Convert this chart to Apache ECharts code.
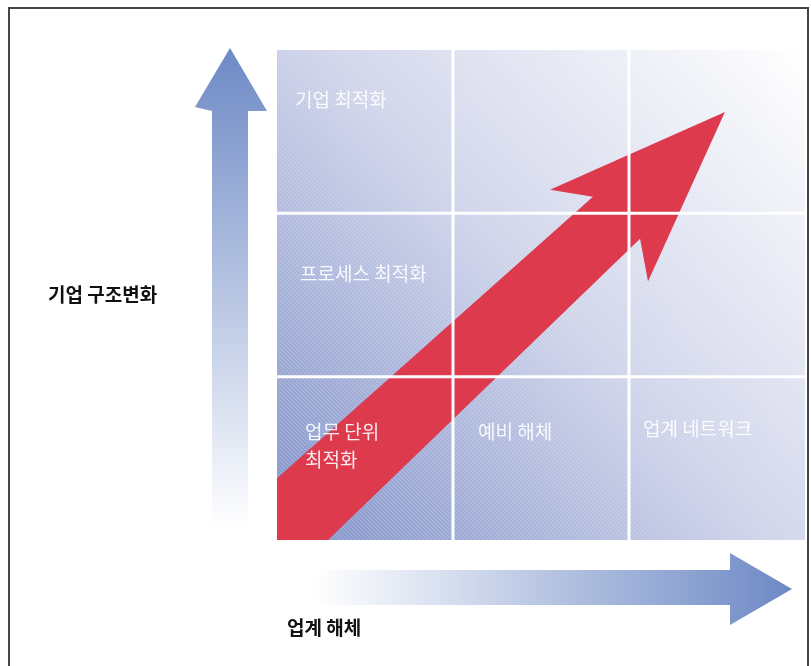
<!DOCTYPE html>
<html>
<head>
<meta charset="utf-8">
<script src="https://cdn.jsdelivr.net/npm/echarts@6/dist/echarts.min.js"></script>
<style>
  html, body { margin: 0; padding: 0; background: #fff; }
  #chart { width: 811px; height: 666px; }
</style>
</head>
<body>
<div id="chart"></div>
<script>
// 셀 데이터 (열, 행, 이름)
const cellCol = [0, 0, 0, 1, 2, 1, 1, 2, 2]
const cellRow = [2, 1, 0, 0, 0, 1, 2, 1, 2]
const cellText = ['기업 최적화', '프로세스 최적화', '업무 단위\n최적화', '예비 해체', '업계 네트워크', '', '', '', '']
// 라벨 위치 보정 (px)
const labelDx = [18, 23, 28, 25, 14, 0, 0, 0, 0]
const labelDy = [50, 60, 69, 55, 52, 0, 0, 0, 0]

// 빨간 화살표 꼭짓점 (축 단위)
const arrowX = [2.545, 2.108, 2.063, -0.063, -0.21, 1.795, 1.551]
const arrowY = [2.621, 1.582, 1.845, -0.367, 0.177, 2.102, 2.145]

// 구분선 위치
const dividers = [1, 2]

const yTitle = '기업 구조변화'
const xTitle = '업계 해체'

const FONT = '"Noto Sans CJK KR", "Noto Sans", sans-serif'
const blue = '#6d89c5'

// 사선 무늬
const hatch = document.createElement('canvas')
hatch.width = 4
hatch.height = 4
const hctx = hatch.getContext('2d')
hctx.strokeStyle = 'rgba(255,255,255,0.2)'
hctx.lineWidth = 1
;[-4, 0, 4].forEach(k => {
    hctx.beginPath()
    hctx.moveTo(-1, -1 + k)
    hctx.lineTo(5, 5 + k)
    hctx.stroke()
})

const chart = echarts.init(document.getElementById('chart'))

const cellData = cellCol.map((c, i) => [c, cellRow[i], i])

chart.setOption({
    animation: false,
    grid: { left: 277, right: 6, top: 50, bottom: 126 },
    xAxis: { type: 'value', min: 0, max: 3, show: false },
    yAxis: { type: 'value', min: 0, max: 3, show: false },
    graphic: [
        {
            type: 'rect',
            shape: { x: 9, y: 8, width: 799, height: 700 },
            style: { fill: 'none', stroke: '#454545', lineWidth: 2 }
        },
        {
            type: 'polygon',
            shape: { points: [[230, 48], [267, 111], [248, 111], [248, 530], [212, 530], [212, 111], [195, 107]] },
            style: {
                fill: new echarts.graphic.LinearGradient(0, 0, 0, 1, [
                    { offset: 0, color: blue },
                    { offset: 1, color: '#ffffff' }
                ])
            }
        },
        {
            type: 'polygon',
            shape: { points: [[314, 570], [730, 570], [730, 553], [792, 589], [730, 625], [730, 605], [314, 605]] },
            style: {
                fill: new echarts.graphic.LinearGradient(0, 0, 1, 0, [
                    { offset: 0, color: '#ffffff' },
                    { offset: 1, color: blue }
                ])
            }
        },
        {
            type: 'text', left: 48, top: 285,
            style: { text: yTitle, fill: '#111', font: 'bold 19px ' + FONT }
        },
        {
            type: 'text', left: 287, top: 618,
            style: { text: xTitle, fill: '#111', font: 'bold 19px ' + FONT }
        }
    ],
    series: [
        {
            // 셀 배경
            type: 'custom',
            data: cellData,
            z: 1,
            renderItem: (params, api) => {
                const p0 = api.coord([api.value(0), api.value(1) + 1])
                const p1 = api.coord([api.value(0) + 1, api.value(1)])
                const bl = api.coord([0, 0])
                const tr = api.coord([3, 3])
                const shape = { x: p0[0], y: p0[1], width: p1[0] - p0[0], height: p1[1] - p0[1] }
                return {
                    type: 'group',
                    children: [
                        {
                            type: 'rect', shape,
                            style: {
                                fill: new echarts.graphic.LinearGradient(bl[0], bl[1], tr[0], tr[1], [
                                    { offset: 0, color: '#8192c9' },
                                    { offset: 0.5, color: '#cfd4ea' },
                                    { offset: 1, color: '#ffffff' }
                                ], true)
                            }
                        },
                        {
                            type: 'rect', shape,
                            style: { fill: { image: hatch, repeat: 'repeat' } }
                        }
                    ]
                }
            }
        },
        {
            // 빨간 화살표
            type: 'custom',
            data: [0],
            z: 2,
            clip: true,
            renderItem: (params, api) => ({
                type: 'polygon',
                shape: { points: arrowX.map((x, i) => api.coord([x, arrowY[i]])) },
                style: { fill: '#dd3a4e' }
            })
        },
        {
            // 구분선
            type: 'custom',
            data: dividers.map(d => [d]),
            z: 3,
            renderItem: (params, api) => {
                const d = api.value(0)
                const a = api.coord([d, 0]), b = api.coord([d, 3])
                const c = api.coord([0, d]), e = api.coord([3, d])
                return {
                    type: 'group',
                    children: [
                        { type: 'line', shape: { x1: a[0], y1: a[1], x2: b[0], y2: b[1] }, style: { stroke: '#fff', lineWidth: 3 } },
                        { type: 'line', shape: { x1: c[0], y1: c[1], x2: e[0], y2: e[1] }, style: { stroke: '#fff', lineWidth: 3 } }
                    ]
                }
            }
        },
        {
            // 셀 라벨
            type: 'custom',
            data: cellData,
            z: 4,
            renderItem: (params, api) => {
                const i = api.value(2)
                const p = api.coord([api.value(0), api.value(1) + 1])
                return {
                    type: 'text',
                    x: p[0] + labelDx[i],
                    y: p[1] + labelDy[i],
                    style: {
                        text: cellText[i],
                        fill: 'rgba(255,255,255,0.9)',
                        font: '19px ' + FONT,
                        lineHeight: 28,
                        verticalAlign: 'middle'
                    }
                }
            }
        }
    ]
})

window.addEventListener('resize', () => chart.resize())
</script>
</body>
</html>
